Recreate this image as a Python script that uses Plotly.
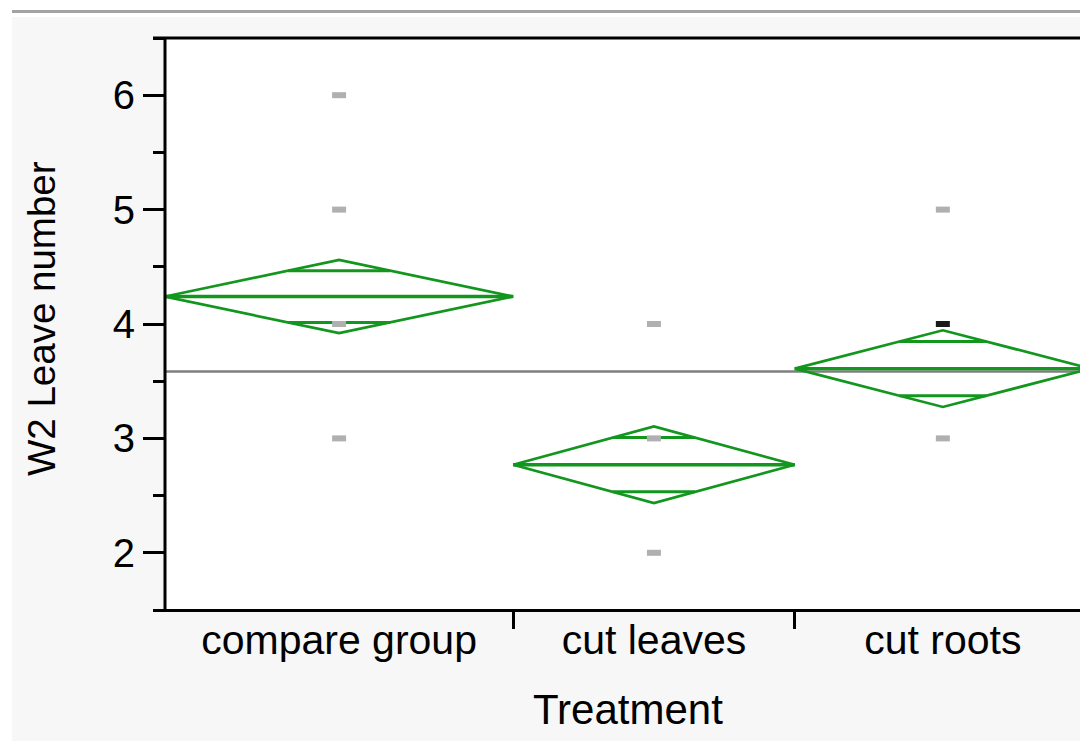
import numpy as np
import plotly.graph_objects as go

# ---------------- data ----------------
categories = ["compare group", "cut leaves", "cut roots"]
group_n = [47, 38, 40]                 # group sizes (set category widths)
group_means = [4.24, 2.77, 3.61]       # means diamond centre lines
ci_half = [0.32, 0.335, 0.335]         # 95% CI half-widths (diamond heights)
grand_mean = 3.585

pt_category = ["compare group", "compare group", "compare group", "compare group",
               "cut leaves", "cut leaves", "cut leaves",
               "cut roots", "cut roots"]
pt_value = [6, 5, 4, 3, 4, 3, 2, 5, 3]
sel_category = ["cut roots"]
sel_value = [4]

y_ticks = [2, 3, 4, 5, 6]

# ---------------- layout constants ----------------
OFF = 8                       # page body margin of the browser
W, H = 1088 - OFF, 741 - OFF
ML, MR, MT, MB = 165 - OFF, 0, 38 - OFF, 741 - 610
PW, PH = W - ML - MR, H - MT - MB
FULL_PX = 926  # full category extent in px (last group runs past the window edge)

def px(x):
    """reference-window x pixel -> paper coordinate"""
    return (x - OFF - ML) / PW

def py(y):
    """reference-window y pixel -> paper coordinate"""
    return (H - MB - (y - OFF)) / PH

edges = np.concatenate([[0], np.cumsum(group_n)]).astype(float)
total = edges[-1]
centers = (edges[:-1] + edges[1:]) / 2
cat_center = dict(zip(categories, centers))
x_end = total * PW / FULL_PX

GREEN = "#12961e"
FONT = "Liberation Sans, Arial, sans-serif"

fig = go.Figure()

# grand mean line
fig.add_trace(go.Scatter(x=[0, total], y=[grand_mean, grand_mean], mode="lines",
                         line=dict(color="#7f7f7f", width=2.7), hoverinfo="skip",
                         showlegend=False))

# means diamonds
dx, dy = [], []
mx, my = [], []
ox, oy = [], []
k = 1 / np.sqrt(2)
for i in range(len(categories)):
    l, r = edges[i], edges[i + 1]
    c = centers[i]
    m, h = group_means[i], ci_half[i]
    dx += [l, c, r, c, l, None]
    dy += [m, m + h, m, m - h, m, None]
    mx += [l, r, None]
    my += [m, m, None]
    half_len = (1 - k) * (r - l) / 2
    for s in (1, -1):
        ox += [c - half_len, c + half_len, None]
        oy += [m + s * h * k, m + s * h * k, None]

fig.add_trace(go.Scatter(x=dx, y=dy, mode="lines", line=dict(color=GREEN, width=2.7),
                         hoverinfo="skip", showlegend=False))
fig.add_trace(go.Scatter(x=ox, y=oy, mode="lines", line=dict(color=GREEN, width=3),
                         hoverinfo="skip", showlegend=False))
fig.add_trace(go.Scatter(x=mx, y=my, mode="lines", line=dict(color=GREEN, width=3.4),
                         hoverinfo="skip", showlegend=False))

# data points
fig.add_trace(go.Scatter(x=[cat_center[c] for c in pt_category], y=pt_value, mode="markers",
                         marker=dict(symbol="line-ew", size=10,
                                     line=dict(color="#b0b0b0", width=6)),
                         showlegend=False))
fig.add_trace(go.Scatter(x=[cat_center[c] for c in sel_category], y=sel_value, mode="markers",
                         marker=dict(symbol="line-ew", size=10,
                                     line=dict(color="#1a1a1a", width=6)),
                         showlegend=False))

shapes = []
# window chrome: white left margin, top strips
shapes.append(dict(type="rect", xref="paper", yref="paper", x0=px(0), x1=px(12), y0=py(741), y1=py(0),
                   fillcolor="white", line_width=0, layer="above"))
shapes.append(dict(type="rect", xref="paper", yref="paper", x0=px(12), x1=px(1088), y0=py(17), y1=py(0),
                   fillcolor="white", line_width=0, layer="above"))
shapes.append(dict(type="rect", xref="paper", yref="paper", x0=px(12), x1=px(1088), y0=py(13), y1=py(10),
                   fillcolor="#a3a3a3", line_width=0, layer="above"))
# frame lines
for (x0, y0, x1, y1) in [(153, 38, 1088, 38), (153, 610.5, 1088, 610.5), (165, 38, 165, 610.5)]:
    shapes.append(dict(type="line", xref="paper", yref="paper", x0=px(x0), x1=px(x1),
                       y0=py(y0), y1=py(y1), line=dict(color="black", width=3), layer="above"))

annotations = [
    dict(text="Treatment", xref="paper", yref="paper", x=px(628), y=py(709),
         xanchor="center", yanchor="middle", showarrow=False,
         font=dict(family=FONT, size=42, color="black")),
    dict(text="W2 Leave number", xref="paper", yref="paper", x=px(41), y=py(319),
         xanchor="center", yanchor="middle", showarrow=False, textangle=-90,
         font=dict(family=FONT, size=38.5, color="black")),
]

fig.update_layout(
    width=W, height=H,
    margin=dict(l=ML, r=MR, t=MT, b=MB, pad=0),
    paper_bgcolor="#f7f7f7", plot_bgcolor="white",
    shapes=shapes, annotations=annotations,
    font=dict(family=FONT, size=40, color="black"),
    xaxis=dict(range=[0, x_end], tickmode="array", tickvals=list(centers), ticktext=categories,
               ticks="outside", ticklen=0, tickcolor="rgba(0,0,0,0)", ticklabelstandoff=-6,
               showgrid=False, zeroline=False, showline=False,
               tickfont=dict(family=FONT, size=41, color="black"),
               minor=dict(tickmode="array", tickvals=list(edges[1:-1]), ticks="outside",
                          ticklen=18, tickwidth=3, tickcolor="black", showgrid=False)),
    yaxis=dict(range=[1.5, 6.5], tickmode="array", tickvals=y_ticks,
               ticks="outside", ticklen=21, tickwidth=3, tickcolor="black",
               showgrid=False, zeroline=False, showline=False,
               tickfont=dict(family=FONT, size=40, color="black"),
               minor=dict(dtick=0.5, tick0=0, ticks="outside", ticklen=11, tickwidth=3,
                          tickcolor="black", showgrid=False)),
)

fig.write_html("out.html")
